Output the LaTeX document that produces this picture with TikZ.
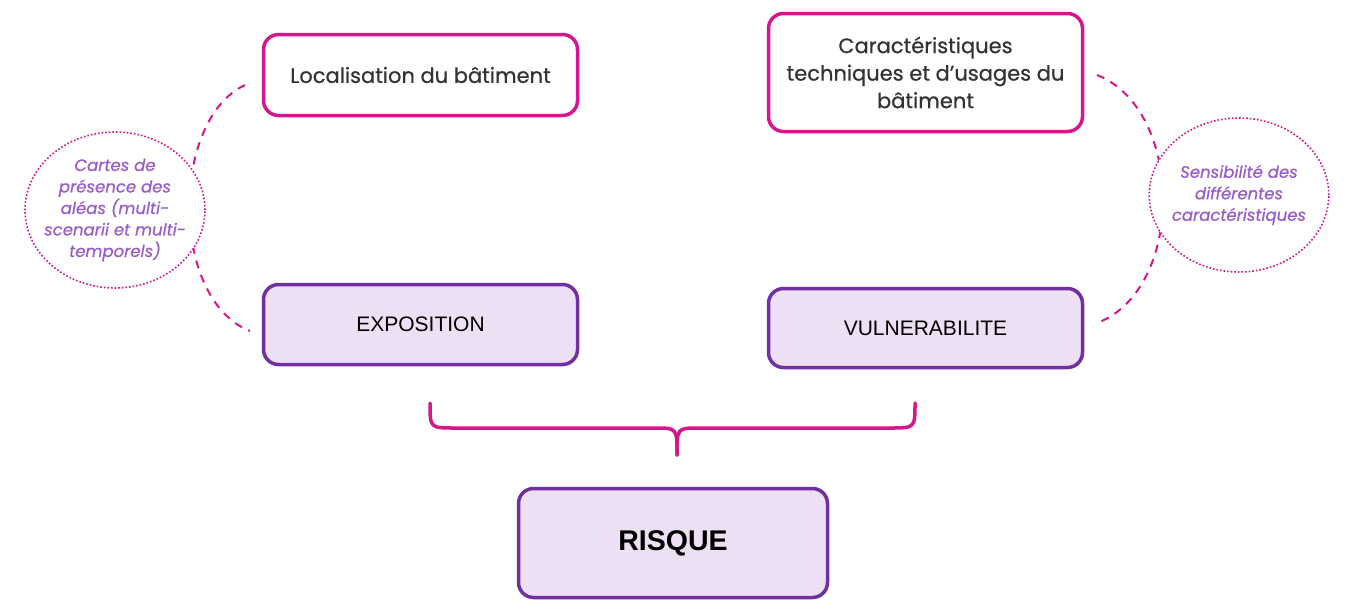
\documentclass[tikz,border=0pt]{standalone}
\usepackage{fontspec}
\setmainfont{Poppins}[FakeBold=0.6]
\newfontfamily\arialf{Liberation Sans}
\usetikzlibrary{shapes.geometric}
\definecolor{pinkc}{HTML}{D6168B}
\definecolor{purpc}{HTML}{7030A0}
\definecolor{lavc}{HTML}{EDE0F5}
\definecolor{txtp}{HTML}{9A5CCB}
\definecolor{txtg}{HTML}{333333}
\tikzset{
  pinkbox/.style={draw=pinkc, line width=3.5pt, rounded corners=15pt, fill=white, minimum width=314pt, align=center, text=txtg, font=\fontsize{21}{27.5}\selectfont},
  purpbox/.style={draw=purpc, line width=3.5pt, rounded corners=15pt, fill=lavc, minimum width=314pt, align=center, text=black, font=\arialf\fontsize{21}{25}\selectfont},
  bubble/.style={ellipse, draw=pinkc, dotted, line width=1.6pt, fill=white, align=center, text=txtp, font=\itshape\fontsize{16.5}{21.5}\selectfont},
  dashlink/.style={draw=pinkc, line width=2pt, dash pattern=on 8pt off 7pt},
  bracel/.style={draw=pinkc, line width=3.5pt, line cap=round}
}
\begin{document}
\begin{tikzpicture}[x=1pt,y=-1pt]
\useasboundingbox (0,0) rectangle (1345,603);
% boxes
\node[pinkbox, minimum height=81pt] (loc) at (420.5,75) {Localisation du bâtiment};
\node[pinkbox, minimum height=118pt] (car) at (925.5,72.5) {Caractéristiques\\techniques et d’usages du\\bâtiment};
\node[purpbox, minimum height=80pt] (expo) at (420.5,324.5) {EXPOSITION};
\node[purpbox, minimum height=79pt] (vuln) at (925.5,328) {VULNERABILITE};
\node[purpbox, minimum width=309pt, minimum height=109pt, font=\arialf\bfseries\fontsize{28.5}{32}\selectfont] (risk) at (673,543) {RISQUE};
% dashed links
\coordinate (la) at (245,85);
\coordinate (lb) at (250,331);
\coordinate (ra) at (1097,75);
\coordinate (rb) at (1097,323);
\draw[dashlink] (la) .. controls (170,120) and (170,300) .. (lb);
\draw[dashlink] (ra) .. controls (1185,110) and (1185,290) .. (rb);
% bubbles
\node[bubble, inner sep=-7.4pt, minimum width=180pt, minimum height=156pt] (bl) at (115,210) {Cartes de\\présence des\\aléas (multi-\\scenarii et multi-\\temporels)};
\node[bubble, inner sep=-3.6pt, minimum width=178pt, minimum height=154pt] (br) at (1239,195) {Sensibilité des\\différentes\\caractéristiques};
% brace
\coordinate (bL) at (430,403);
\coordinate (bR) at (915,403);
\coordinate (bM) at (677,455);
\draw[bracel] (bL) .. controls (430,428) .. (455,428) -- (655,428) .. controls (677,428) .. (bM);
\draw[bracel] (bR) .. controls (915,428) .. (890,428) -- (699,428) .. controls (677,428) .. (bM);
\end{tikzpicture}
\end{document}
